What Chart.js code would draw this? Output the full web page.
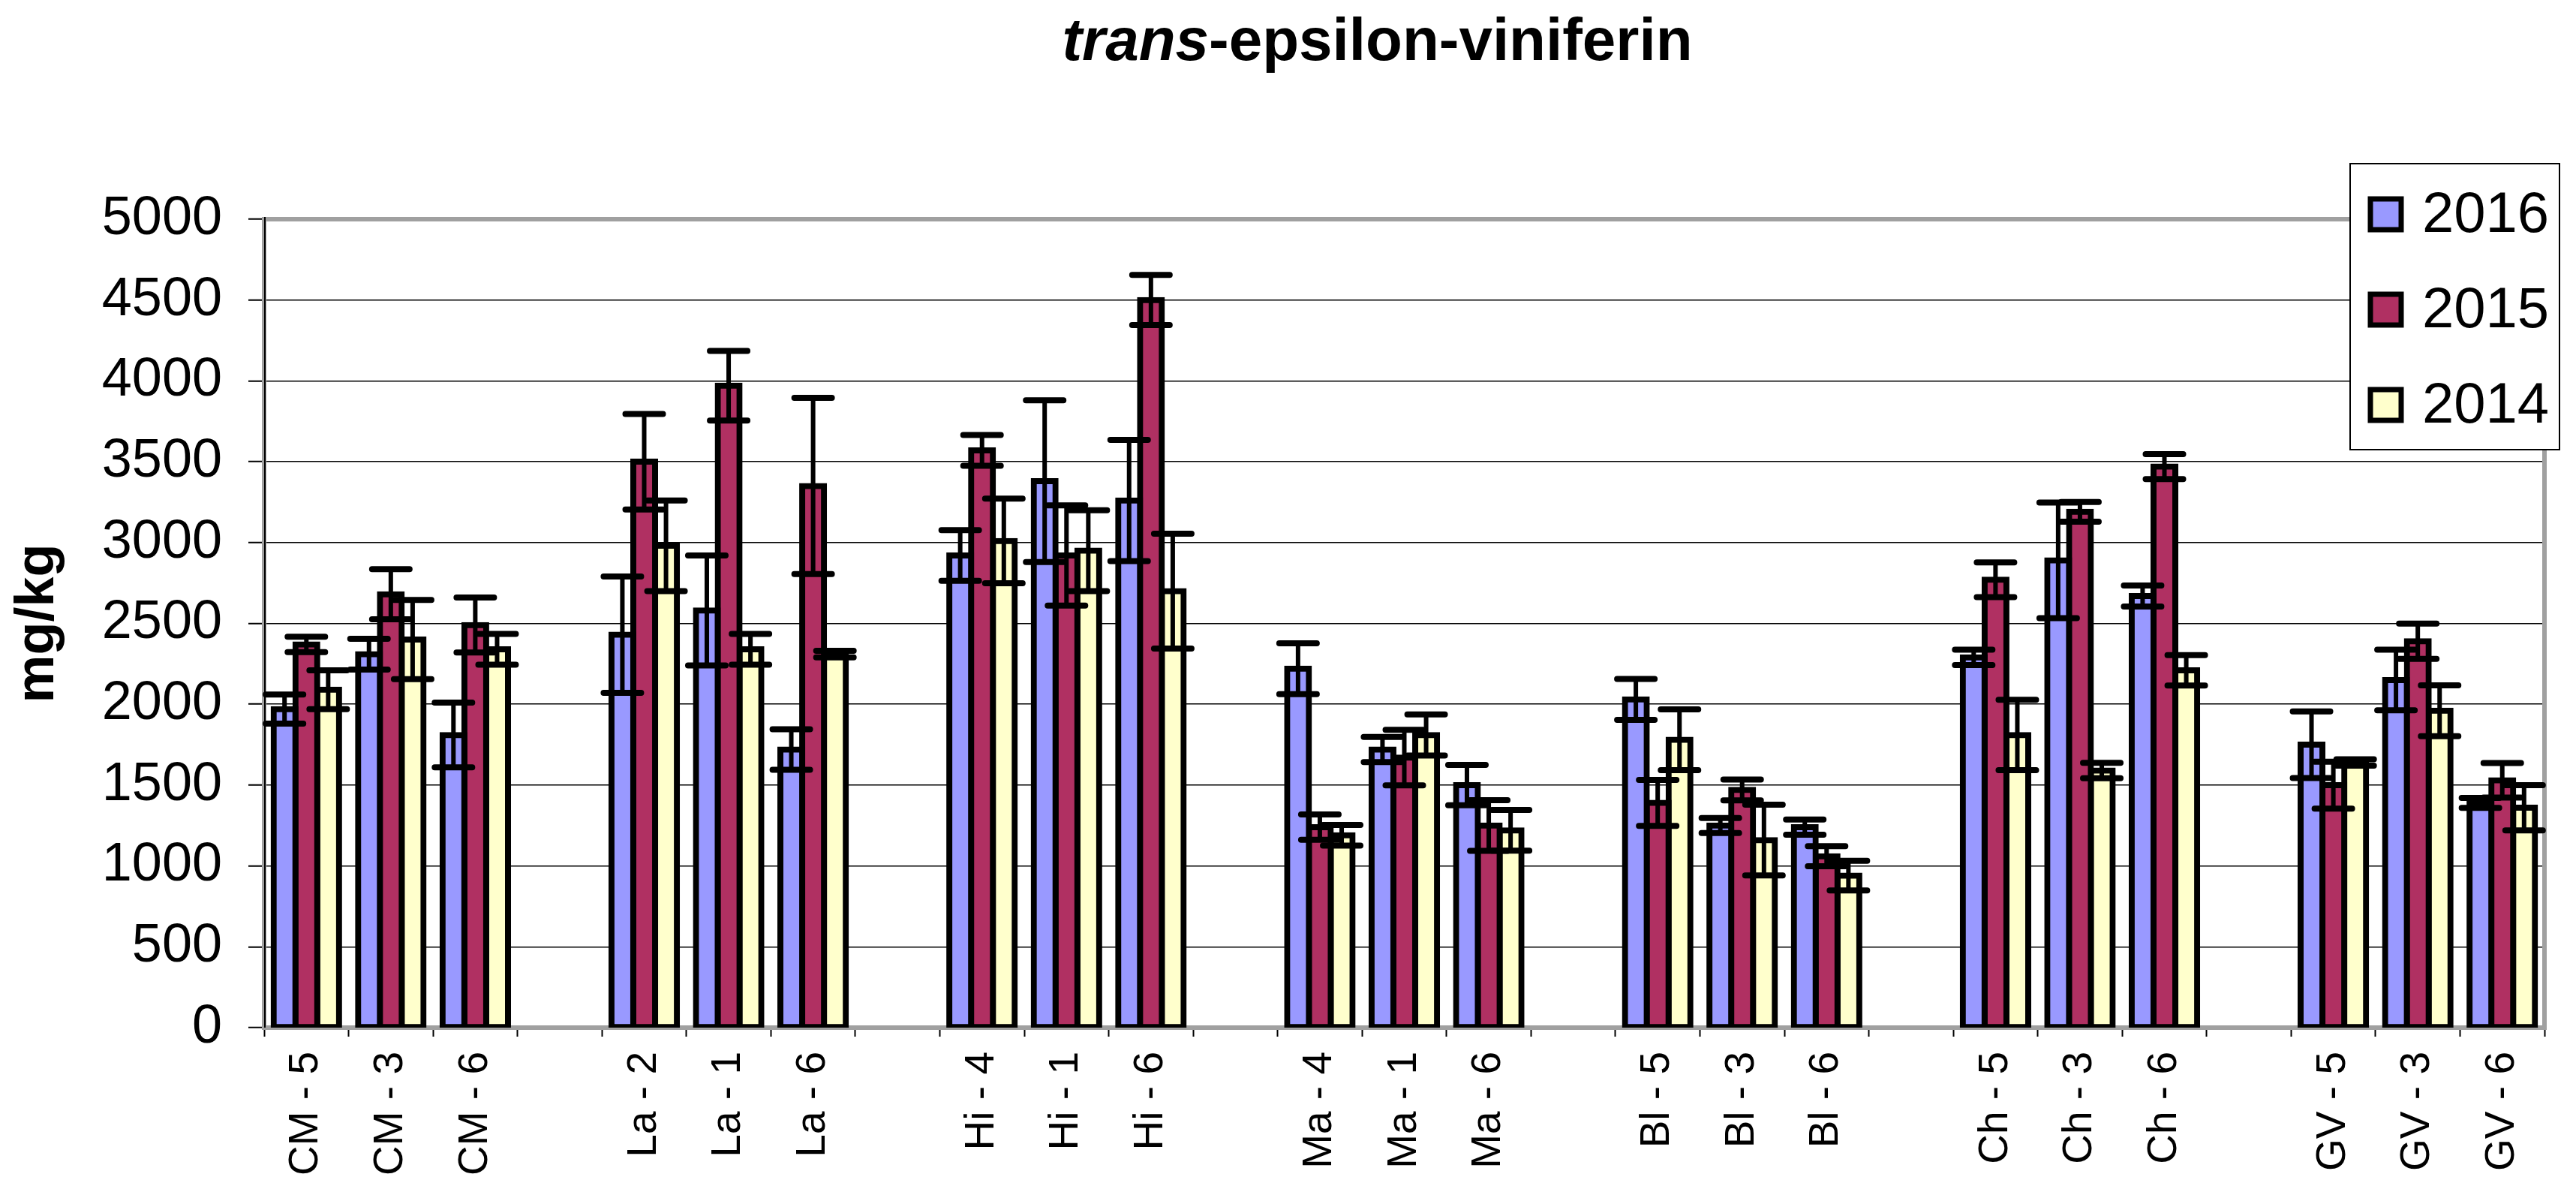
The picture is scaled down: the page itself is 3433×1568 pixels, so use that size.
<!DOCTYPE html>
<html>
<head>
<meta charset="utf-8">
<title>trans-epsilon-viniferin</title>
<script src="https://cdn.jsdelivr.net/npm/chart.js@4.4.1/dist/chart.umd.min.js"></script>
<style>
    html, body { margin: 0; padding: 0; background: #ffffff; }
    #grafico { display: block; }
</style>
</head>
<body>
<canvas id="grafico" width="3433" height="1568"></canvas>
<script>
// ========== DATOS ==========

const categorias = [
    'CM - 5', 'CM - 3', 'CM - 6', '',
    'La - 2', 'La - 1', 'La - 6', '',
    'Hi - 4', 'Hi - 1', 'Hi - 6', '',
    'Ma - 4', 'Ma - 1', 'Ma - 6', '',
    'Bl - 5', 'Bl - 3', 'Bl - 6', '',
    'Ch - 5', 'Ch - 3', 'Ch - 6', '',
    'GV - 5', 'GV - 3', 'GV - 6'
];

const anios = ['2016', '2015', '2014'];

const valores2016 = [1970, 2310, 1810, null, 2430, 2580, 1720, null, 2920, 3380, 3260, null, 2220, 1720, 1500, null, 2030, 1250, 1240, null, 2290, 2890, 2670, null, 1750, 2150, 1390];
const valores2015 = [2370, 2680, 2490, null, 3500, 3970, 3350, null, 3570, 2920, 4500, null, 1240, 1670, 1250, null, 1390, 1470, 1060, null, 2770, 3190, 3470, null, 1500, 2390, 1530];
const valores2014 = [2090, 2400, 2340, null, 2980, 2340, 2310, null, 3010, 2950, 2700, null, 1190, 1810, 1220, null, 1780, 1160, 940, null, 1810, 1590, 2210, null, 1640, 1960, 1360];

const error2016 = [90, 95, 200, null, 360, 340, 125, null, 157, 500, 375, null, 157, 78, 125, null, 126, 47, 47, null, 48, 358, 65, null, 206, 187, 31];
const error2015 = [48, 155, 170, null, 295, 215, 545, null, 95, 310, 155, null, 78, 172, 157, null, 142, 64, 62, null, 107, 61, 77, null, 145, 109, 107];
const error2014 = [120, 245, 95, null, 280, 95, 20, null, 262, 250, 355, null, 64, 127, 126, null, 188, 219, 92, null, 218, 48, 94, null, 20, 157, 140];

const ticksY = [0, 500, 1000, 1500, 2000, 2500, 3000, 3500, 4000, 4500, 5000];

const colores = ['#9999FF', '#B03062', '#FFFFCC'];

const fuente = '"Liberation Sans", Arial, sans-serif';

// ========== PLUGINS ==========

// Marco gris del area de trazado
const marcoPlugin = {
    id: 'marco',
    beforeDatasetsDraw(chart) {
        const { ctx, chartArea } = chart;
        ctx.save();
        ctx.strokeStyle = '#A0A0A0';
        ctx.lineWidth = 6;
        ctx.strokeRect(chartArea.left, chartArea.top, chartArea.right - chartArea.left, chartArea.bottom - chartArea.top);
        ctx.strokeStyle = '#000000';
        ctx.lineWidth = 2;
        ctx.beginPath();
        ctx.moveTo(chartArea.left + 1, chartArea.top - 3);
        ctx.lineTo(chartArea.left + 1, chartArea.bottom);
        ctx.stroke();
        ctx.restore();
    }
};

// Barras de error (media +- desviacion)
const erroresPlugin = {
    id: 'errores',
    afterDatasetsDraw(chart) {
        const { ctx } = chart;
        const escalaY = chart.scales.y;
        ctx.save();
        ctx.strokeStyle = '#000000';
        ctx.lineCap = 'round';
        chart.data.datasets.forEach((ds, i) => {
            const meta = chart.getDatasetMeta(i);
            meta.data.forEach((barra, j) => {
                const valor = ds.data[j];
                const err = ds.errores[j];
                if (valor === null || err === null) return;
                const yArriba = escalaY.getPixelForValue(valor + err);
                const yAbajo = escalaY.getPixelForValue(valor - err);
                const x = barra.x;
                ctx.lineWidth = 6;
                ctx.beginPath();
                ctx.moveTo(x, yArriba);
                ctx.lineTo(x, yAbajo);
                ctx.stroke();
                ctx.lineWidth = 8;
                ctx.beginPath();
                ctx.moveTo(x - 25, yArriba);
                ctx.lineTo(x + 25, yArriba);
                ctx.moveTo(x - 25, yAbajo);
                ctx.lineTo(x + 25, yAbajo);
                ctx.stroke();
            });
        });
        ctx.restore();
    }
};

// Titulo con "trans" en cursiva
const tituloPlugin = {
    id: 'titulo',
    afterDraw(chart) {
        const { ctx, chartArea } = chart;
        const parte1 = 'trans';
        const parte2 = '-epsilon-viniferin';
        ctx.save();
        ctx.fillStyle = '#000000';
        ctx.textBaseline = 'alphabetic';
        ctx.font = `italic bold 80px ${fuente}`;
        const ancho1 = ctx.measureText(parte1).width;
        ctx.font = `bold 80px ${fuente}`;
        const ancho2 = ctx.measureText(parte2).width;
        const centro = (chartArea.left + chartArea.right) / 2 - 36;
        const x0 = centro - (ancho1 + ancho2) / 2;
        ctx.font = `italic bold 80px ${fuente}`;
        ctx.fillText(parte1, x0, 80);
        ctx.font = `bold 80px ${fuente}`;
        ctx.fillText(parte2, x0 + ancho1, 80);
        ctx.restore();
    }
};

// Leyenda con recuadro, encima de la esquina del area
const leyendaPlugin = {
    id: 'leyenda',
    afterDraw(chart) {
        const { ctx, chartArea } = chart;
        const x = chartArea.right - 259;
        const y = chartArea.top - 74;
        const ancho = 279;
        const alto = 381;
        ctx.save();
        ctx.fillStyle = '#ffffff';
        ctx.fillRect(x, y, ancho, alto);
        ctx.strokeStyle = '#000000';
        ctx.lineWidth = 2;
        ctx.strokeRect(x, y, ancho, alto);
        ctx.font = `76px ${fuente}`;
        ctx.textBaseline = 'middle';
        chart.data.datasets.forEach((ds, i) => {
            const cy = y + 67 + i * 127;
            ctx.fillStyle = ds.backgroundColor;
            ctx.fillRect(x + 27, cy - 20, 41, 41);
            ctx.lineWidth = 7;
            ctx.strokeRect(x + 27, cy - 20, 41, 41);
            ctx.fillStyle = '#000000';
            ctx.fillText(ds.label, x + 96, cy + 3);
        });
        ctx.restore();
    }
};

// ========== GRAFICO ==========

function crearDataset(etiqueta, datos, errores, color) {
    return {
        label: etiqueta,
        data: datos,
        errores: errores,
        backgroundColor: color,
        borderColor: '#000000',
        borderWidth: 8,
        borderSkipped: false,
        inflateAmount: 4,
        categoryPercentage: 0.775,
        barPercentage: 1.0
    };
}

function crearGrafico() {
    const ctx = document.getElementById('grafico').getContext('2d');

    new Chart(ctx, {
        type: 'bar',
        data: {
            labels: categorias,
            datasets: [
                crearDataset(anios[0], valores2016, error2016, colores[0]),
                crearDataset(anios[1], valores2015, error2015, colores[1]),
                crearDataset(anios[2], valores2014, error2014, colores[2])
            ]
        },
        options: {
            responsive: false,
            animation: false,
            devicePixelRatio: 1,
            layout: {
                padding: { top: 292, right: 42, left: 0, bottom: 0 }
            },
            plugins: {
                legend: { display: false },
                title: { display: false },
                tooltip: { enabled: false }
            },
            scales: {
                x: {
                    afterFit: (escala) => { escala.height = 199; },
                    grid: {
                        drawOnChartArea: false,
                        offset: true,
                        color: '#000000',
                        tickColor: '#000000',
                        tickLength: 12,
                        tickWidth: 2
                    },
                    border: { display: false },
                    ticks: {
                        autoSkip: false,
                        minRotation: 90,
                        maxRotation: 90,
                        padding: 20,
                        color: '#000000',
                        font: { family: fuente, size: 55 }
                    }
                },
                y: {
                    min: 0,
                    max: 5000,
                    afterFit: (escala) => { escala.width = 352; },
                    afterBuildTicks: (escala) => {
                        escala.ticks = ticksY.map(v => ({ value: v }));
                    },
                    grid: {
                        color: '#000000',
                        lineWidth: 1.5,
                        tickColor: '#000000',
                        tickLength: 21,
                        tickWidth: 2
                    },
                    border: { display: false },
                    ticks: {
                        padding: 35,
                        color: '#000000',
                        font: { family: fuente, size: 72 },
                        callback: (valor) => String(valor)
                    },
                    title: {
                        display: true,
                        text: 'mg/kg',
                        color: '#000000',
                        padding: { top: 8, bottom: 0 },
                        font: { family: fuente, size: 72, weight: 'bold' }
                    }
                }
            }
        },
        plugins: [marcoPlugin, erroresPlugin, tituloPlugin, leyendaPlugin]
    });
}

crearGrafico();
</script>
</body>
</html>
